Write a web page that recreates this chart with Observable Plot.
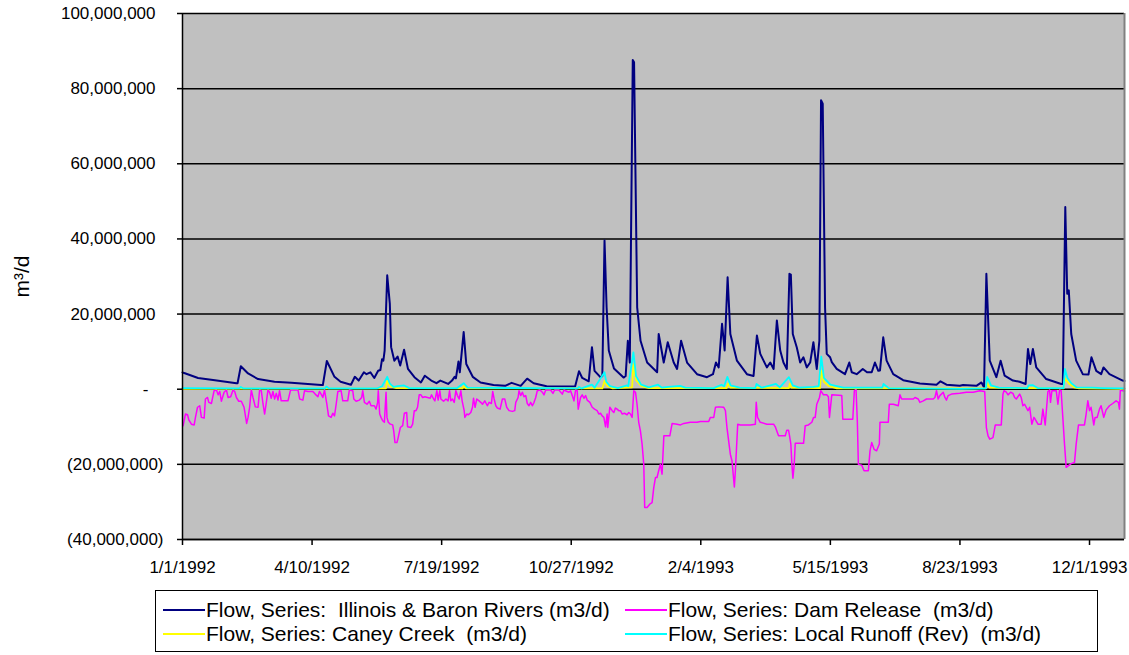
<!DOCTYPE html>
<html><head><meta charset="utf-8">
<script src="https://cdn.jsdelivr.net/npm/d3@7"></script>
<script src="https://cdn.jsdelivr.net/npm/@observablehq/plot@0.6"></script>
<style>
body{margin:0;background:#fff;font-family:"Liberation Sans",Arial,sans-serif;}
#wrap{position:relative;width:1129px;height:655px;overflow:hidden;}
#wrap svg{position:absolute;left:0;top:0;}
#legend{position:absolute;left:155px;top:590px;width:943px;height:62px;border:1px solid #000;box-sizing:border-box;background:#fff;}
.item{position:absolute;font-size:21px;line-height:22px;color:#000;white-space:pre;}
.sw{display:inline-block;width:42px;height:0;border-top:2px solid;vertical-align:middle;margin-right:1px;position:relative;top:-1px;}
</style></head><body><div id="wrap"><div id="legend"></div></div>
<script>
// Series names (legend)
const seriesNames = [
  "Flow, Series:  Illinois & Baron Rivers (m3/d)",
  "Flow, Series: Dam Release  (m3/d)",
  "Flow, Series: Caney Creek  (m3/d)",
  "Flow, Series: Local Runoff (Rev)  (m3/d)"
];
const seriesColors = ["#000080", "#FF00FF", "#FFFF00", "#00FFFF"];

// Axis ticks
const yTicks = [-40, -20, 0, 20, 40, 60, 80, 100]; // millions m3/d
const xTickLabels = ["1/1/1992", "4/10/1992", "7/19/1992", "10/27/1992", "2/4/1993", "5/15/1993", "8/23/1993", "12/1/1993"];
const startDate = "1992-01-01";
const endDay = 727; // last day shown (days after 1/1/1992)

// Data: [day since 1/1/1992, flow in millions m3/d]
const illinois = [[0,4.5],[1.3,4.3],[12,3.0],[25,2.4],[41.6,1.6],[42.5,1.6],[45,6.1],[50.6,4.2],[58.3,2.7],[71,2.0],[84,1.7],[107,1.1],[108.3,1.1],[111.4,7.5],[117.3,3.3],[122,2.0],[130,1.2],[133,3.3],[136,2.3],[140,4.5],[142,4.0],[145,4.5],[148,3.0],[151,4.9],[152.7,5.1],[154,8.0],[155,7.6],[156,10.3],[158,30.3],[160,22.7],[161,11.2],[163.5,7.6],[166,8.7],[168,6.3],[171,10.5],[174,5.4],[179,3.2],[184,1.8],[187,3.6],[192,2.3],[196,1.6],[199,2.3],[205,1.4],[208,2.3],[210,3.3],[211,2.9],[213,7.4],[214,4.5],[217,15.2],[219,6.7],[224,3.3],[230,1.8],[240,1.1],[249,0.9],[254,1.7],[261,0.9],[266,2.8],[271,1.6],[281,0.8],[297,0.7],[303,0.7],[306,4.8],[308.5,3.0],[313.5,2.1],[316,11.2],[318,4.9],[322.5,3.2],[324,3.5],[325.7,39.6],[327.3,21.8],[329,10.3],[333,5.5],[340.4,3.1],[342,3.5],[343.7,12.9],[345.2,7.1],[347.5,87.6],[348.5,87.0],[350.9,21.8],[353.5,12.9],[358.6,7.1],[366.3,4.5],[367.5,14.7],[371.4,7.1],[374.5,12.5],[379.1,7.1],[381.7,5.4],[384.8,12.9],[389.4,7.1],[397.1,4.0],[404.8,3.2],[409.4,4.0],[411.7,7.1],[413.8,5.8],[416.4,17.4],[418.4,10.3],[420.7,29.8],[422.8,14.7],[427.9,7.6],[435.6,4.0],[440.7,3.5],[443.3,14.3],[445.9,9.4],[451,5.8],[453.6,7.1],[456.2,5.4],[458.7,18.3],[461.3,10.3],[463.8,7.1],[466.4,5.4],[468.4,30.7],[469.5,30.5],[471,14.7],[474.1,11.1],[476.7,7.1],[479.2,8.5],[481.8,5.8],[484.4,7.1],[486.9,12.5],[489.5,5.4],[491.5,12.9],[492.8,76.9],[494.1,76.0],[495.9,21.8],[497.2,9.4],[499.8,8.5],[501.1,7.2],[504.9,5.4],[511.3,4.0],[514.6,7.1],[516.5,4.5],[520.3,4.0],[525,5.4],[528.3,4.5],[531.9,4.5],[534.4,7.1],[537,4.9],[538.3,5.0],[540.8,13.8],[543.4,7.6],[548.5,4.0],[556.2,2.4],[569.1,1.5],[581.9,1.2],[585,2.1],[589.6,1.2],[599.9,0.9],[602.4,1.1],[612.7,0.9],[616.6,1.8],[618.6,0.5],[620.4,30.7],[623,7.6],[628.1,3.2],[631.4,7.6],[634.5,3.6],[640.9,2.3],[646,2.0],[650.7,1.4],[652.5,10.7],[654.3,6.7],[656.3,10.7],[658.9,5.8],[666.6,2.7],[678.2,1.4],[679.4,1.4],[681.3,48.5],[682.8,25.4],[684,26.3],[685.9,14.7],[689.7,7.6],[694.8,4.0],[699.2,3.9],[701.5,8.5],[705.2,4.9],[709,4.0],[710.8,5.8],[715.4,4.0],[725.6,2.3],[727,2.2]];

const damRelease = [[0.5,-9.7],[2.3,-6.6],[3.9,-6.8],[4.9,-8.2],[6.9,-9.3],[9.0,-9.5],[10.0,-7.5],[11.6,-4.8],[13.3,-4.4],[14.6,-7.5],[16.7,-7.7],[17.7,-2.6],[19.3,-2.2],[20.3,-3.5],[22.3,-3.8],[24.4,-0.4],[26.2,-0.2],[27.5,-1.5],[28.7,-0.6],[30.0,-3.2],[32.1,-0.8],[33.9,-0.2],[35.2,-2.2],[37.2,-2.0],[39.0,-0.2],[40.3,-0.6],[41.6,-2.2],[43.4,-3.2],[45.4,-3.2],[47.5,-4.8],[49.5,-9.1],[50.6,-7.5],[51.8,-4.8],[53.1,-0.2],[54.4,-2.2],[56.2,-4.7],[58.3,-4.8],[59.5,-0.2],[60.8,-0.4],[62.1,-3.8],[63.4,-6.6],[64.7,-3.5],[66.0,-0.2],[67.2,-0.8],[68.5,-2.4],[69.8,-0.6],[71.1,-2.6],[72.4,-1.1],[73.7,-2.9],[74.9,-0.4],[76.2,-3.1],[81.4,-3.1],[83.4,-0.2],[89.1,-0.2],[90.4,-2.6],[92.9,-2.9],[94.2,-0.4],[96.8,-0.6],[100.6,-0.6],[102.4,-1.3],[104.5,-2.0],[105.7,-0.6],[107.0,-1.3],[108.3,-2.2],[109.6,-0.2],[111.4,-4.0],[112.7,-7.1],[114.7,-7.5],[116.0,-6.4],[117.3,-7.1],[118.6,-4.0],[119.9,-0.6],[122.4,-0.4],[123.7,-3.1],[127.5,-3.1],[128.8,-0.2],[131.4,-0.4],[132.2,-2.6],[134,-3.2],[136.5,-2.9],[138.3,-2.2],[139.1,-0.4],[140.4,-3.5],[142.4,-4.0],[144.2,-3.2],[145.5,-4.4],[148.1,-4.4],[149.4,-5.3],[150.6,-3.5],[151.1,-0.4],[152.2,-6.6],[153.2,-7.5],[154.5,-8.4],[155.8,-8.8],[157.1,-0.8],[157.8,-7.5],[158.8,-8.8],[160.4,-9.3],[162.2,-9.5],[163,-11.1],[164,-14.2],[165.5,-14.2],[166.5,-12.8],[168.1,-10.2],[169.9,-9.7],[171.2,-6.4],[173,-6.2],[173.7,-10.0],[176.3,-10.2],[177.6,-9.3],[178.9,-5.7],[180.2,-5.7],[181.4,-4.8],[182.7,-1.5],[184,-1.5],[185.3,-2.2],[187.1,-2.0],[189.1,-2.2],[191.2,-2.4],[192.2,-1.5],[193.8,-2.6],[194.8,-3.1],[196.3,-0.4],[197.3,-2.9],[198.6,-0.4],[199.4,-2.6],[201.5,-3.2],[203.3,-2.6],[205,-3.1],[206.1,-0.4],[207.1,-3.1],[208.4,-2.6],[209.7,-3.5],[211,-0.4],[212.2,-1.7],[213.5,-2.6],[214.8,-0.4],[215.8,-3.1],[217.4,-5.7],[217.9,-7.5],[219.4,-6.6],[220.7,-6.8],[222.5,-6.2],[223.8,-4.8],[224.6,-2.4],[225.8,-4.8],[227.1,-2.6],[228.9,-3.1],[230.2,-3.5],[231.5,-4.0],[233.3,-3.1],[235.3,-4.4],[236.6,-3.5],[238.4,-3.8],[239.4,-0.6],[240.5,-2.6],[241.8,-4.4],[243,-5.0],[245.1,-5.3],[246.9,-2.6],[248.7,-2.6],[250.2,-4.8],[252,-5.7],[254.6,-5.9],[256.4,-5.7],[257.2,-3.5],[259,-2.2],[259.7,-0.4],[261,-1.7],[262.3,-0.8],[263.6,-2.0],[264.9,-1.7],[266.1,-3.8],[267.4,-4.4],[268.7,-3.5],[270,-4.4],[271.3,-3.5],[272.6,-2.2],[273.8,-0.4],[275.9,-0.2],[277.7,-0.8],[279,-1.5],[280.3,-0.2],[284.1,-0.2],[285.9,-1.1],[287.2,-0.2],[290.5,-0.2],[293.1,-1.3],[294.4,-0.2],[296.9,-0.6],[298.2,-0.8],[299.5,-0.4],[300.8,-1.7],[302.1,-3.1],[303.4,-0.2],[304.6,-0.4],[305.4,-5.3],[307.2,-2.2],[308.5,-1.5],[309.8,-2.4],[311.1,-1.7],[312.3,-2.9],[314.4,-3.5],[316.2,-4.8],[318,-5.3],[320,-5.7],[321.3,-6.6],[322.6,-6.4],[323.9,-7.1],[325.2,-7.5],[326.5,-10.0],[327.7,-6.6],[328.2,-10.2],[329.8,-4.8],[331.6,-5.7],[332.9,-6.2],[334.1,-5.0],[335.4,-5.3],[336.7,-5.7],[338,-5.7],[339.3,-6.6],[341.1,-6.4],[343.1,-6.8],[344.4,-6.2],[345.7,-6.6],[347,-7.5],[348.3,-0.4],[349.6,-0.8],[350.8,-4.0],[352.1,-8.8],[353.4,-11.1],[354.7,-14.6],[356,-20],[356.7,-31.5],[358.5,-31.5],[360.6,-30.6],[362.4,-30.2],[363.7,-26.2],[365,-23.5],[366.2,-23.5],[367.5,-21.7],[368.8,-20],[370.1,-22.6],[371.5,-12.4],[376.1,-12.4],[377.9,-9.1],[381.7,-9.3],[384.3,-9.5],[386.9,-9.1],[392,-8.8],[397.1,-8.8],[399.7,-8.6],[406.1,-8.6],[407.4,-7.5],[410,-7.5],[411.3,-4.8],[413.8,-4.7],[417.7,-4.8],[419,-5.7],[420.2,-10.2],[422.8,-17.3],[424.1,-19.1],[425.9,-26.0],[426.7,-21.7],[428.5,-9.3],[430.5,-9.5],[438.2,-9.5],[442.1,-9.3],[442.8,-3.5],[443.8,-7.5],[445.9,-8.8],[451,-9.3],[456.2,-9.3],[457.5,-10.0],[460,-12.4],[465.2,-12.4],[466.4,-10.9],[467.7,-10.9],[468.5,-12.4],[469.5,-14.6],[470.3,-20],[471.1,-23.7],[472.1,-20],[472.9,-14.4],[479.3,-14.4],[480.6,-9.7],[483.1,-9.5],[485.7,-8.8],[487,-7.5],[488.3,-7.5],[489.5,-4.0],[491.6,-2.2],[492.6,-0.4],[494.7,-1.5],[497.2,-1.5],[498.5,-2.0],[499.3,-7.5],[501.1,-1.5],[508.8,-1.7],[509.6,-8.0],[517.3,-8.0],[518.5,-0.4],[519.8,0],[520.8,-8.4],[521.6,-20],[524.2,-20.2],[526,-21.7],[529.3,-21.7],[530.6,-16.4],[531.9,-14.2],[533.7,-16],[535.7,-16.4],[537.8,-14.6],[538.3,-8.8],[544.7,-8.8],[545.5,-4.0],[548.6,-4.0],[552.4,-4.4],[553.7,-1.5],[555,-2.6],[564,-2.6],[565.3,-2.2],[567.8,-2.6],[569.1,-3.5],[571.7,-3.1],[574.2,-2.6],[579.4,-2.6],[580.7,-2.2],[581.9,-0.4],[583.2,-2.6],[584.5,-1.7],[587.1,-0.8],[588.4,-2.2],[589.6,-2.9],[590.9,-1.7],[593.5,-1.3],[599.9,-1.1],[605,-0.8],[610.2,-0.8],[615.3,-0.4],[619.1,-0.6],[620.4,-10.2],[621.7,-12.4],[623,-13.3],[625.5,-12.9],[627.3,-9.5],[631.9,-9.5],[633.2,-1.3],[634,-0.4],[635.8,-0.8],[637.1,-1.5],[639.1,-0.8],[640.9,-1.1],[642.2,-2.2],[643.5,-2.6],[646.1,-1.3],[647.3,-2.2],[648.6,-4.4],[649.9,-4.0],[652.5,-5.7],[653.8,-4.8],[655.5,-9.3],[657.1,-7.5],[658.1,-8.0],[660.2,-9.3],[662.7,-9.3],[664,-5.3],[665.8,-9.5],[667.9,-0.6],[669.2,-0.2],[669.9,-3.5],[671,-0.4],[674.3,-0.4],[675.6,-4.0],[676.9,-0.2],[678.1,-0.4],[679.4,-7.5],[680.7,-14.6],[682,-20.8],[685.8,-19.8],[688.4,-19.5],[689.7,-14.6],[691.5,-9.5],[696.1,-9.5],[697.4,-6.6],[698.7,-3.1],[700,-5.7],[701.2,-4.8],[703.3,-9.5],[704.3,-7.5],[705.9,-7.5],[707.7,-5.3],[708.9,-4.4],[711,-7.5],[712.8,-5.5],[715.4,-4.4],[717.9,-3.8],[720.5,-3.1],[722.3,-3.5],[723.1,-5.3],[723.8,-0.2],[725.6,-0.4],[727,-0.5]];

const caneyCreek = [[0,0.1],[157,0.2],[158,2.3],[160,0.8],[165,0.3],[216,0.2],[217,0.8],[219,0.2],[324,0.2],[325.7,2.2],[328,0.8],[332,0.2],[347,0.5],[348,6.7],[350,2.5],[354,0.8],[360,0.3],[420,0.3],[421,1.5],[423,0.4],[468,0.3],[468.7,1.5],[470,0.4],[492,0.3],[493,4.9],[495,2.0],[499,0.8],[505,0.2],[620,0.2],[621,1.6],[623,0.4],[680,0.2],[681,3.0],[684,1.5],[688,0.5],[692,0.2],[727,0.1]];

const localRunoff = [[0,0.3],[44,0.2],[45,0.6],[47,0.2],[110,0.2],[111,0.7],[113,0.2],[150,0.2],[154,0.8],[158,3.3],[160,1.5],[163,0.6],[166,0.8],[171,1.0],[175,0.3],[212,0.3],[217,1.6],[220,0.4],[305,0.2],[306,0.6],[308,0.2],[316,1.2],[318,0.4],[325.7,4.5],[327,2.0],[330,0.8],[336,0.3],[343,1.0],[344,0.8],[348,9.8],[350,3.5],[354,1.2],[360,0.5],[367,1.2],[370,0.4],[375,0.6],[384,0.9],[388,0.4],[410,0.3],[416,1.2],[418,0.8],[420.5,3.3],[423,1.0],[430,0.4],[442,0.3],[443,1.4],[447,0.4],[458,1.4],[461,0.5],[468,3.2],[471,1.0],[476,0.4],[487,0.6],[491,0.8],[493,8.7],[495,3.0],[500,1.2],[510,0.4],[540,0.4],[541,1.4],[545,0.3],[600,0.1],[620,0.2],[621,3.3],[624,1.0],[630,0.4],[652,0.3],[653,1.0],[656,1.1],[660,0.3],[680,0.3],[681,5.4],[683,3.0],[686,1.6],[690,0.5],[702,0.4],[710,0.3],[727,0.2]];

// ---- build
const t0 = new Date(startDate + "T00:00:00Z").getTime();
const toDate = d => new Date(t0 + d * 86400000);
const parseTick = s => { const [m, d, y] = s.split("/").map(Number); return new Date(Date.UTC(y, m - 1, d)); };
const xTicks = xTickLabels.map(parseTick);
const rows = arr => arr.map(([d, v]) => ({date: toDate(d), value: v}));
const fmt = d3.format(",");
const font = '"Liberation Sans", Arial, sans-serif';

const axisCommon = {anchor: "left", label: null, tickSize: 5, stroke: "#000", strokeWidth: 1.5, fontSize: 17, fill: "#000"};

const chart = Plot.plot({
  width: 1129, height: 585,
  marginLeft: 182, marginRight: 5, marginTop: 13, marginBottom: 46,
  style: {fontFamily: font, fontSize: "17px", background: "transparent", color: "#000", overflow: "visible"},
  x: {type: "utc", domain: [toDate(0), toDate(endDay)], label: null},
  y: {domain: [yTicks[0], yTicks[yTicks.length - 1]], label: null},
  marks: [
    Plot.frame({fill: "#C0C0C0", stroke: null}),
    Plot.ruleY(yTicks, {stroke: "#000", strokeWidth: 1.5}),
    Plot.line(rows(illinois), {x: "date", y: "value", stroke: seriesColors[0], strokeWidth: 2}),
    Plot.line(rows(damRelease), {x: "date", y: "value", stroke: seriesColors[1], strokeWidth: 1.5}),
    Plot.line(rows(caneyCreek), {x: "date", y: "value", stroke: seriesColors[2], strokeWidth: 1.8}),
    Plot.line(rows(localRunoff), {x: "date", y: "value", stroke: seriesColors[3], strokeWidth: 1.8}),
    Plot.ruleX([toDate(endDay)], {stroke: "#808080", strokeWidth: 2}),
    Plot.ruleX([toDate(0)], {stroke: "#000", strokeWidth: 1.5}),
    Plot.ruleY([yTicks[0]], {stroke: "#000", strokeWidth: 1.5}),
    Plot.axisY(yTicks.filter(v => v > 0), {...axisCommon, tickPadding: 22, tickFormat: v => fmt(v * 1e6)}),
    Plot.axisY(yTicks.filter(v => v < 0), {...axisCommon, tickPadding: 14, tickFormat: v => "(" + fmt(-v * 1e6) + ")"}),
    Plot.axisY([0], {...axisCommon, tickPadding: 29, tickFormat: () => "-"}),
    Plot.axisX(xTicks, {label: null, tickSize: 6, tickPadding: 15, stroke: "#000", strokeWidth: 1.5, fontSize: 17, fill: "#000", tickFormat: (d, i) => xTickLabels[i]}),
    Plot.text(["m³/d"], {frameAnchor: "left", textAnchor: "middle", dx: -160, rotate: -90, fontSize: 21, fill: "#000"})
  ]
});
const wrap = document.getElementById("wrap");
wrap.insertBefore(chart, wrap.firstChild);

// legend
const legend = document.getElementById("legend");
const pos = [[7, 8], [469, 8], [7, 32], [469, 32]];
seriesNames.forEach((name, i) => {
  const it = document.createElement("div");
  it.className = "item";
  it.style.left = pos[i][0] + "px";
  it.style.top = pos[i][1] + "px";
  const sw = document.createElement("span");
  sw.className = "sw";
  sw.style.borderTopColor = seriesColors[i];
  it.appendChild(sw);
  it.appendChild(document.createTextNode(name));
  legend.appendChild(it);
});
</script>
</body></html>
